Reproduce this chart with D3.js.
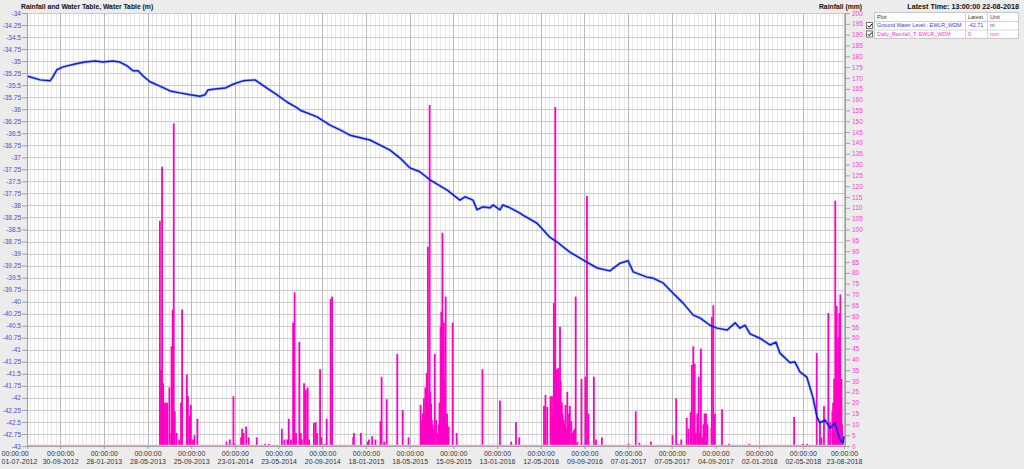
<!DOCTYPE html>
<html><head><meta charset="utf-8">
<script src="https://cdn.jsdelivr.net/npm/d3@7"></script>
<style>
html,body{margin:0;padding:0;background:#ececec;}
svg{display:block;font-family:"Liberation Sans",Arial,sans-serif;}
</style></head>
<body>
<svg id="chart" width="1024" height="469"></svg>
<script>
// ---------------- DATA ----------------
const startDate = "2012-07-01";          // day 0 of the day offsets below
const endDate = "2018-08-23";
const xTickDates = ["2012-07-01","2012-09-30","2013-01-28","2013-05-28","2013-09-25","2014-01-23","2014-05-23","2014-09-20","2015-01-18","2015-05-18","2015-09-15","2016-01-13","2016-05-12","2016-09-09","2017-01-07","2017-05-07","2017-09-04","2018-01-02","2018-05-02","2018-08-23"];
const xTickLabels = ["01-07-2012","30-09-2012","28-01-2013","28-05-2013","25-09-2013","23-01-2014","23-05-2014","20-09-2014","18-01-2015","18-05-2015","15-09-2015","13-01-2016","12-05-2016","09-09-2016","07-01-2017","07-05-2017","04-09-2017","02-01-2018","02-05-2018","23-08-2018"];
const levelTicks = d3.range(0, 37).map(i => -34 - i * 0.25);
const rainTicks = d3.range(0, 41).map(i => i * 5);

// Ground water level (m), day offset from startDate
const levelDay = [0,36,63,71,82,99,132,159,187,209,236,255,275,291,305,319,338,365,393,420,448,475,489,497,516,544,566,593,626,634,659,687,714,742,750,797,832,860,887,942,997,1024,1052,1079,1107,1154,1189,1203,1225,1236,1252,1272,1280,1299,1307,1327,1354,1362,1401,1436,1456,1491,1527,1566,1601,1629,1651,1665,1703,1719,1747,1774,1802,1830,1849,1876,1895,1923,1945,1958,1972,1986,2013,2041,2057,2068,2096,2109,2123,2142,2159,2170,2178,2192,2206,2219,2233,2241,2244];
const levelM = [-35.31,-35.39,-35.41,-35.33,-35.18,-35.12,-35.06,-35.02,-35.0,-35.02,-35.0,-35.02,-35.1,-35.2,-35.2,-35.31,-35.43,-35.52,-35.62,-35.66,-35.7,-35.73,-35.7,-35.6,-35.58,-35.56,-35.48,-35.41,-35.39,-35.43,-35.56,-35.7,-35.85,-35.97,-36.02,-36.16,-36.33,-36.43,-36.54,-36.64,-36.85,-37.01,-37.22,-37.30,-37.47,-37.68,-37.89,-37.82,-37.89,-38.09,-38.03,-38.05,-37.99,-38.09,-37.99,-38.05,-38.16,-38.2,-38.37,-38.66,-38.76,-38.97,-39.13,-39.3,-39.36,-39.2,-39.15,-39.38,-39.49,-39.51,-39.61,-39.82,-40.03,-40.28,-40.34,-40.49,-40.55,-40.59,-40.44,-40.55,-40.49,-40.67,-40.76,-40.9,-40.84,-41.07,-41.27,-41.25,-41.46,-41.57,-42.0,-42.4,-42.52,-42.46,-42.63,-42.52,-42.87,-42.93,-42.8];

// Daily rainfall (mm), day offset from startDate
const rainDay = [365,368,371,374,378,382,385,391,396,397,400,403,406,411,418,423,426,439,442,447,450,456,460,468,
548,557,567,570,588,591,595,602,609,631,654,665,700,707,715,719,725,731,735,739,748,752,755,761,766,771,775,788,793,797,805,808,817,823,834,838,860,
896,898,917,936,939,948,957,971,974,981,988,1017,1032,1048,1081,1084,1085,1087,1090,1092,1094,1098,1101,1103,1106,1108,1110,1112,1114,1117,1120,1124,1126,1129,1131,1133,1136,1138,1141,1143,1145,1147,1150,1152,1154,1156,1158,1169,1180,
1251,1299,1330,1343,1352,1420,1424,1429,1438,1442,1444,1447,1449,1451,1453,1455,1457,1459,1461,1464,1466,1469,1471,1474,1476,1479,1481,1484,1486,1489,1491,1495,1497,1501,1504,1507,1512,1523,1534,1538,1542,1557,1563,1579,
1652,1672,1682,1714,1773,1783,1789,1797,1812,1817,1823,1826,1830,1834,1837,1841,1845,1848,1851,1855,1858,1861,1865,1869,1880,1881,1885,1889,1909,1928,1984,
2107,2131,2143,2169,2178,2182,2189,2201,2206,2212,2214,2217,2220,2222,2224,2226,2228,2229,2231,2232,2234,2237,2239,2241];
const rainMm = [104,35,129,29,20,20,20,27,6,46,63,149,16,6,3,20,63,33,23,14,19,3,5,12.6,
2,3,23,1,4,8,6,9,4,4,1,1,8,3,3,12.6,3,57,71,6,48,6,3,29,26,27,3,10.6,11,6,35.5,4,1,12.6,68,69,0.5,
4,6,6,2,3,4.5,3,11.5,32,2,21.6,42.5,16.6,4,19,12,8,15,22,15,27,33.7,92,20,157.5,25,19.5,12,10,8,42.5,12,6,5,10,20,55,62,98.5,20,57,30,69,10,15,6,9,57,6,
35.5,21,2,11,4,18.5,23.6,18,23,23,15,66,40,156.6,30,35.5,20,36,25,55,30,20,15,12,10,19,8,25,15,11,18.5,11.5,6,7,8,69,2,31,32,115.5,15,32,3,4,
1,16,1.5,2,5,22,1,3,13,8,15.6,37.5,46,38,6,15,32,6,45,4,10,15,15,10,8.5,59.6,65,14.8,17,1,1,
13.4,1,1,43,11.5,4,18.5,61.4,11,16,20,31,113.3,35,64.7,30,50,40,61.4,35,70,31,10,3];

const legendPlots = ["Ground Water Level.: EWLR_WDM", "Daily_Rainfall_T: EWLR_WDM"];
const legendLatest = ["-42.71", "0"];
const legendUnits = ["m", "mm"];

// ---------------- CHART ----------------
const svg = d3.select("#chart");
const L = 27, R = 844, T = 13, B = 446;
const parse = d3.utcParse("%Y-%m-%d");
const d0 = parse(startDate), d1 = parse(endDate);
const x = d3.scaleUtc().domain([d0, d1]).range([L, R]);
const yL = d3.scaleLinear().domain([-43, -34]).range([B, T]);
const yR = d3.scaleLinear().domain([0, 200]).range([B, T]);

const blue = "#0a1ee0", pink = "#ff00c4";

// plot background
svg.append("rect").attr("x", L).attr("y", T).attr("width", R - L + 1).attr("height", B - T).attr("fill", "#fff");

// minor vertical grid (every 12 days from the first 120-day tick)
const ref = parse(xTickDates[1]);
const minor = [];
for (let k = -20; k < 200; k++) {
  const d = d3.utcDay.offset(ref, k * 12);
  if (d > d0 && d < d1) minor.push(d);
}
svg.append("g").selectAll("line").data(minor).join("line")
  .attr("x1", d => Math.round(x(d)) + 0.5).attr("x2", d => Math.round(x(d)) + 0.5)
  .attr("y1", T).attr("y2", B).attr("stroke", "#e8e8e8").attr("stroke-width", 1);

// horizontal grid
svg.append("g").selectAll("line").data(levelTicks).join("line")
  .attr("x1", L).attr("x2", R + 1)
  .attr("y1", d => Math.round(yL(d)) + 0.5).attr("y2", d => Math.round(yL(d)) + 0.5)
  .attr("stroke", "#cccccc").attr("stroke-width", 1);

// major vertical grid
const tickDates = xTickDates.map(parse);
svg.append("g").selectAll("line").data(tickDates).join("line")
  .attr("x1", d => Math.round(x(d)) + 0.5).attr("x2", d => Math.round(x(d)) + 0.5)
  .attr("y1", T).attr("y2", B).attr("stroke", "#b8b8b8").attr("stroke-width", 1);

// rainfall bars
const rain = rainDay.map((d, i) => ({ date: d3.utcDay.offset(d0, d), v: rainMm[i] }));
svg.append("g").selectAll("rect").data(rain).join("rect")
  .attr("x", d => x(d.date) - 0.9).attr("width", 1.8)
  .attr("y", d => yR(d.v)).attr("height", d => yR(0) - yR(d.v))
  .attr("fill", pink);

// rainfall zero line
svg.append("line").attr("x1", L).attr("x2", R + 1).attr("y1", B - 0.5).attr("y2", B - 0.5)
  .attr("stroke", "#ff9ee0").attr("stroke-width", 1.5);

// water level line (soft halo imitates the noisy trace width, then the line)
const lvl = levelDay.map((d, i) => ({ date: d3.utcDay.offset(d0, d), v: levelM[i] }));
const lineGen = d3.line().x(d => x(d.date)).y(d => yL(d.v));
svg.append("path").datum(lvl).attr("d", lineGen)
  .attr("fill", "none").attr("stroke", "#4a5cf0").attr("stroke-opacity", 0.35).attr("stroke-width", 3).attr("stroke-linejoin", "round");
svg.append("path").datum(lvl).attr("d", lineGen)
  .attr("fill", "none").attr("stroke", blue).attr("stroke-width", 1.5).attr("stroke-linejoin", "round");

// left axis
const gl = svg.append("g").attr("transform", `translate(${L},0)`)
  .call(d3.axisLeft(yL).tickValues(levelTicks).tickFormat(d => String(d)).tickSize(5).tickPadding(1));
gl.select(".domain").attr("stroke", "#a0a0a0");
gl.selectAll(".tick line").attr("stroke", "#a0a0a0");
gl.selectAll(".tick text").attr("fill", "#4a4ae6").attr("font-size", 6.5).attr("font-family", "Liberation Sans");

// right axis
const gr = svg.append("g").attr("transform", `translate(${R + 1},0)`)
  .call(d3.axisRight(yR).tickValues(rainTicks).tickFormat(d => String(d)).tickSize(5).tickPadding(2));
gr.select(".domain").attr("stroke", "#a0a0a0");
gr.selectAll(".tick line").attr("stroke", "#a0a0a0");
gr.selectAll(".tick text").attr("fill", "#ff40d0").attr("font-size", 6.5).attr("font-family", "Liberation Sans");

// bottom axis
const gb = svg.append("g").attr("transform", `translate(0,${B})`)
  .call(d3.axisBottom(x).tickValues(tickDates).tickFormat(() => "").tickSize(3));
gb.select(".domain").attr("stroke", "#a0a0a0");
gb.selectAll(".tick line").attr("stroke", "#a0a0a0");
gb.selectAll(".tick").each(function (d, i) {
  const g = d3.select(this);
  const anchor = i === 0 ? "start" : "middle";
  const dx = i === 0 ? -26 : 0;
  g.append("text").attr("x", dx).attr("y", 9.5).attr("text-anchor", anchor).attr("fill", "#333")
    .attr("font-size", 7).text("00:00:00");
  g.append("text").attr("x", dx).attr("y", 18).attr("text-anchor", anchor).attr("fill", "#333")
    .attr("font-size", 7).text(xTickLabels[i]);
});

// titles
svg.append("text").attr("x", 21).attr("y", 9).attr("font-size", 6.8).attr("font-weight", "bold")
  .attr("fill", "#111").text("Rainfall and Water Table, Water Table (m)");
svg.append("text").attr("x", 862).attr("y", 9).attr("text-anchor", "end").attr("font-size", 6.8).attr("font-weight", "bold")
  .attr("fill", "#111").text("Rainfall (mm)");
svg.append("text").attr("x", 1019).attr("y", 9).attr("text-anchor", "end").attr("font-size", 7.2).attr("font-weight", "bold")
  .attr("fill", "#111").text("Latest Time: 13:00:00 22-08-2018");

// legend table
const lg = svg.append("g");
const tx = 874, ty = 12, tw = 144;
const colX = [tx, 965, 987, tx + tw];
lg.append("rect").attr("x", tx + 0.5).attr("y", ty + 0.5).attr("width", tw).attr("height", 26)
  .attr("fill", "#fff").attr("stroke", "#c8c8c8");
[ty + 9, ty + 17.5].forEach(yy => lg.append("line").attr("x1", tx).attr("x2", tx + tw).attr("y1", yy + 0.5).attr("y2", yy + 0.5).attr("stroke", "#d4d4d4"));
[965, 987].forEach(xx => lg.append("line").attr("x1", xx + 0.5).attr("x2", xx + 0.5).attr("y1", ty).attr("y2", ty + 26).attr("stroke", "#d4d4d4"));
const hdr = ["Plot", "Latest", "Unit"];
hdr.forEach((h, i) => lg.append("text").attr("x", colX[i] + 3).attr("y", ty + 6.8).attr("font-size", 5.5).attr("fill", "#333").text(h));
legendPlots.forEach((p, i) => {
  const yy = ty + 9 + i * 8.5 + 6.3;
  const c = i === 0 ? "#3a3ae0" : "#ff30d0";
  lg.append("text").attr("x", tx + 3).attr("y", yy).attr("font-size", 5.4).attr("fill", c).text(p);
  lg.append("text").attr("x", 968).attr("y", yy).attr("font-size", 5.4).attr("fill", c).text(legendLatest[i]);
  lg.append("text").attr("x", 990).attr("y", yy).attr("font-size", 5.4).attr("fill", c).text(legendUnits[i]);
  // checkbox
  lg.append("rect").attr("x", 866.5).attr("y", ty + 10.5 + i * 8.5).attr("width", 6).attr("height", 6)
    .attr("fill", "#fff").attr("stroke", "#777");
  lg.append("path").attr("d", `M867.8,${ty + 13.6 + i * 8.5} l1.5,1.6 l2.6,-3.2`)
    .attr("fill", "none").attr("stroke", "#000").attr("stroke-width", 1);
});
</script>
</body></html>
